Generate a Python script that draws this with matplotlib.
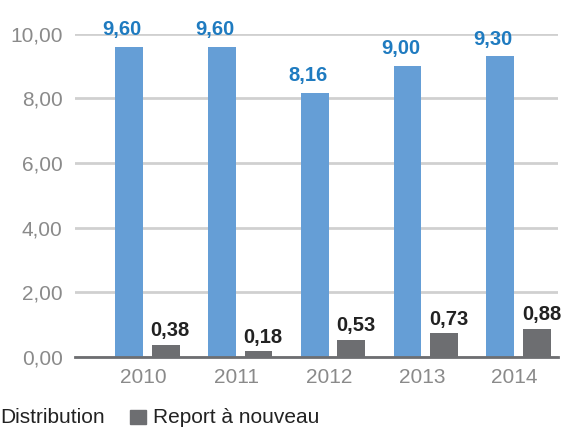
import matplotlib.pyplot as plt
import numpy as np

years = ['2010', '2011', '2012', '2013', '2014']
distribution = [9.60, 9.60, 8.16, 9.00, 9.30]
report = [0.38, 0.18, 0.53, 0.73, 0.88]
yticks = [0, 2, 4, 6, 8, 10]

blue = '#659ed6'
grey = '#6d6e71'

plt.rcParams['font.family'] = ['Liberation Sans', 'DejaVu Sans']

fig = plt.figure(figsize=(5.62, 4.28), dpi=100)
ax = fig.add_axes([0.1335, 0.166, 0.86, 0.755])

x = np.arange(len(years))
w = 0.30
ax.bar(x - 0.195, distribution, w, color=blue, zorder=3)
ax.bar(x + 0.20, report, w, color=grey, zorder=3)

def fmt(v):
    return f'{v:.2f}'.replace('.', ',')

for i in x:
    ax.annotate(fmt(distribution[i]), (i - 0.27, distribution[i]), xytext=(0, 8.5),
                textcoords='offset points', ha='center', va='baseline',
                fontsize=14.5, fontweight='bold', color='#1f7bc0', clip_on=False)
    ax.annotate(fmt(report[i]), (i + 0.25, report[i]), xytext=(0, 6),
                textcoords='offset points', ha='center', va='baseline',
                fontsize=14.5, fontweight='bold', color='#222222', clip_on=False)

ax.set_xlim(-0.776, 4.43)
ax.set_ylim(0, 10)
ax.set_yticks(yticks)
ax.set_yticklabels([fmt(t) for t in yticks])
ax.set_xticks(x - 0.04)
ax.set_xticklabels(years)
ax.tick_params(axis='both', length=0, labelsize=15, labelcolor='#8a8a8a')
ax.tick_params(axis='y', pad=9)
ax.tick_params(axis='x', pad=8)

ax.grid(axis='y', color='#d0d0d0', linewidth=2, zorder=0)
for s in ['top', 'right', 'left']:
    ax.spines[s].set_visible(False)
ax.spines['bottom'].set_color('#6d6e71')
ax.spines['bottom'].set_linewidth(2)
ax.spines['bottom'].set_zorder(4)

# legend
fig.text(0.0, 5 / 428, 'Distribution', fontsize=15, color='#222222', va='baseline')
fig.patches.append(plt.Rectangle((130 / 562, 4 / 428), 16 / 562, 14 / 428,
                                 transform=fig.transFigure, color=grey, figure=fig))
fig.text(153 / 562, 5 / 428, 'Report à nouveau', fontsize=15, color='#222222', va='baseline')

fig.savefig('out.png', dpi=100)
